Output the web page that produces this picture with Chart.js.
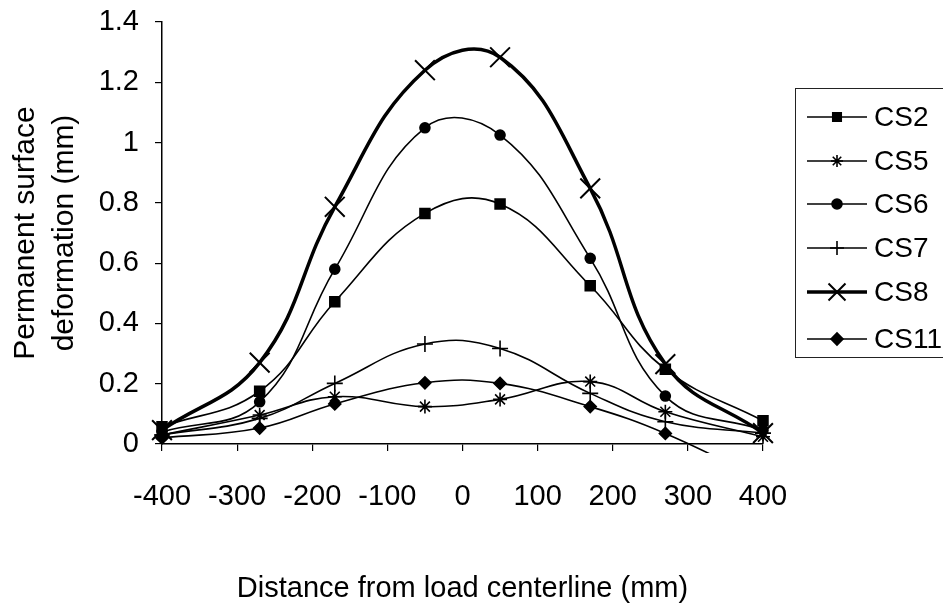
<!DOCTYPE html>
<html>
<head>
<meta charset="utf-8">
<script src="https://cdn.jsdelivr.net/npm/chart.js@4.4.0/dist/chart.umd.min.js"></script>
<style>
  html, body { margin: 0; padding: 0; background: #fff; }
  #wrap { width: 943px; height: 606px; }
</style>
</head>
<body>
<div id="wrap"><canvas id="chart" width="943" height="606"></canvas></div>
<script>
// distance from load centerline (mm)
const distances = [-400, -270, -170, -50, 50, 170, 270, 400];

// permanent surface deformation (mm)
const cs2 = [0.057, 0.175, 0.472, 0.765, 0.796, 0.525, 0.248, 0.077];
const cs5 = [0.03, 0.096, 0.157, 0.124, 0.148, 0.207, 0.107, 0.024];
const cs6 = [0.04, 0.14, 0.58, 1.049, 1.025, 0.616, 0.159, 0.046];
const cs7 = [0.03, 0.085, 0.201, 0.332, 0.317, 0.168, 0.074, 0.036];
const cs8 = [0.046, 0.27, 0.787, 1.24, 1.283, 0.848, 0.265, 0.036];
const cs11 = [0.02, 0.053, 0.133, 0.203, 0.201, 0.124, 0.035, -0.12];

const seriesNames = ["CS2", "CS5", "CS6", "CS7", "CS8", "CS11"];
const xTicks = [-400, -300, -200, -100, 0, 100, 200, 300, 400];
const yTicks = [0, 0.2, 0.4, 0.6, 0.8, 1, 1.2, 1.4];

const FONT = '"Liberation Sans", Arial, sans-serif';

function toPoints(values) {
    return values.map((v, i) => ({ x: distances[i], y: v }));
}

// marker look per series (chart / legend)
const styles = [
    { style: 'rect', r: 7, lr: 6, width: 1.6 },
    { style: 'star', r: 7, lr: 6, width: 1.6 },
    { style: 'circle', r: 5, lr: 5, width: 1.6 },
    { style: 'cross', r: 8, lr: 7, width: 1.6 },
    { style: 'crossRot', r: 14, lr: 12, width: 3.5 },
    { style: 'rectRot', r: 6, lr: 6, width: 1.6 }
];

const allValues = [cs2, cs5, cs6, cs7, cs8, cs11];

const datasets = allValues.map((vals, i) => {
    const s = styles[i];
    return {
        label: seriesNames[i],
        data: toPoints(vals),
        borderColor: '#000',
        backgroundColor: '#000',
        borderWidth: s.width,
        pointStyle: s.style,
        pointRadius: s.r,
        pointBorderWidth: s.style === 'crossRot' ? 2 : 1.6,
        pointBackgroundColor: '#000',
        pointBorderColor: '#000',
        tension: 0.42,
        clip: seriesNames[i] === 'CS11' ? { left: false, top: false, right: false, bottom: 9 } : false
    };
});

// legend box on the right, drawn by hand to get line + marker samples
const legendPlugin = {
    id: 'boxLegend',
    afterDraw(chart) {
        const ctx = chart.ctx;
        ctx.save();
        ctx.strokeStyle = '#222';
        ctx.lineWidth = 1;
        ctx.strokeRect(795.5, 88.5, 160, 269);
        const rows = [117, 161, 204, 248, 292, 339];
        ctx.font = '28px ' + FONT;
        ctx.textBaseline = 'middle';
        ctx.fillStyle = '#000';
        rows.forEach((y, i) => {
            const s = styles[i];
            ctx.strokeStyle = '#000';
            ctx.lineWidth = s.width;
            ctx.beginPath();
            ctx.moveTo(807, y);
            ctx.lineTo(867, y);
            ctx.stroke();
            ctx.lineWidth = s.style === 'crossRot' ? 2 : 1.6;
            Chart.helpers.drawPoint(ctx, { pointStyle: s.style, radius: s.lr, rotation: 0, borderWidth: 1.6 }, 837, y);
            ctx.fillStyle = '#000';
            ctx.fillText(seriesNames[i], 874, y + 1);
        });
        ctx.restore();
    }
};

new Chart(document.getElementById('chart'), {
    type: 'line',
    data: { datasets: datasets },
    plugins: [legendPlugin],
    options: {
        responsive: false,
        animation: false,
        events: [],
        layout: { padding: { top: 22, right: 180, bottom: 0, left: 0 } },
        plugins: {
            legend: { display: false },
            tooltip: { enabled: false }
        },
        scales: {
            x: {
                type: 'linear',
                min: -400,
                max: 400,
                afterFit: (scale) => { scale.height = 162; },
                afterBuildTicks: (scale) => { scale.ticks = xTicks.map(v => ({ value: v })); },
                grid: { drawOnChartArea: false, drawTicks: true, tickLength: 7, color: '#000', lineWidth: 1.2 },
                border: { display: true, color: '#000', width: 1.5 },
                ticks: { color: '#000', padding: 29, font: { family: FONT, size: 29 }, maxRotation: 0 },
                title: {
                    display: true,
                    text: 'Distance from load centerline (mm)',
                    color: '#000',
                    font: { family: FONT, size: 29, lineHeight: 1.2 },
                    padding: { top: 0, bottom: 0 }
                }
            },
            y: {
                min: 0,
                max: 1.4,
                afterFit: (scale) => {
                    scale.width = 162;
                    scale.paddingTop = 0;
                    scale.paddingBottom = 0;
                },
                afterBuildTicks: (scale) => { scale.ticks = yTicks.map(v => ({ value: v })); },
                grid: { drawOnChartArea: false, drawTicks: true, tickLength: 7, color: '#000', lineWidth: 1.2 },
                border: { display: true, color: '#000', width: 1.5 },
                ticks: {
                    color: '#000',
                    padding: 16,
                    font: { family: FONT, size: 29 },
                    callback: (v) => String(Math.round(v * 10) / 10)
                },
                title: {
                    display: true,
                    text: ['Permanent surface', 'deformation (mm)'],
                    color: '#000',
                    font: { family: FONT, size: 30, lineHeight: 1.3 },
                    padding: { top: 6, bottom: 0 }
                }
            }
        }
    }
});
</script>
</body>
</html>
